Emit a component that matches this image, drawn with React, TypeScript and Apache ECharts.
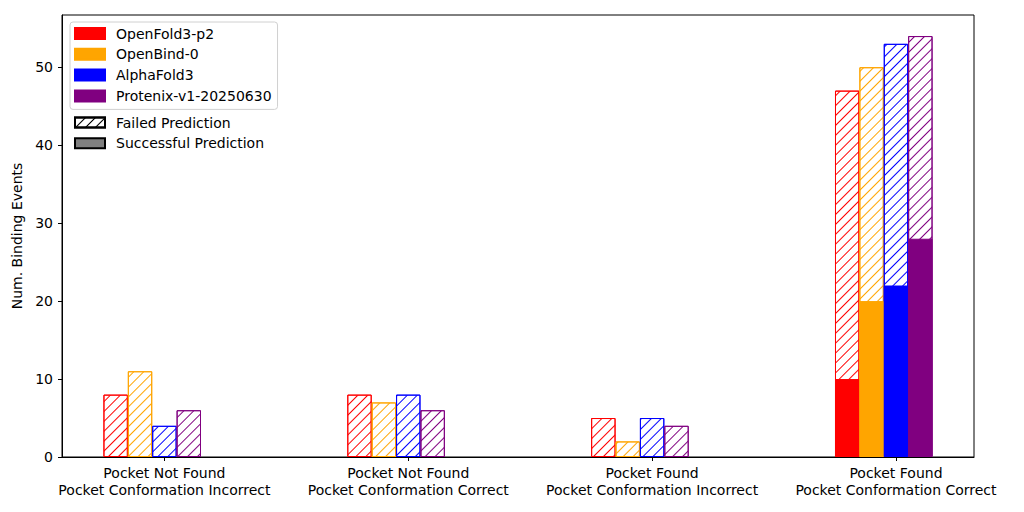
import React, { useEffect, useRef } from 'react';
import * as echarts from 'echarts';

const categories = [
  'Pocket Not Found\nPocket Conformation Incorrect',
  'Pocket Not Found\nPocket Conformation Correct',
  'Pocket Found\nPocket Conformation Incorrect',
  'Pocket Found\nPocket Conformation Correct',
];
const categoryPositions = [0, 1, 2, 3];

const models = ['OpenFold3-p2', 'OpenBind-0', 'AlphaFold3', 'Protenix-v1-20250630'];
const modelColors = ['#ff0000', '#ffa500', '#0000ff', '#800080'];
// bar offset of each model inside a group (in category units)
const barOffsets = [-0.2, -0.1, 0, 0.1];

// total binding events (failed + successful) per category
const openFold3Total = [8, 8, 5, 47];
const openBindTotal = [11, 7, 2, 50];
const alphaFold3Total = [4, 8, 5, 53];
const protenixTotal = [6, 6, 4, 54];
// successful predictions per category
const openFold3Successful = [0, 0, 0, 10];
const openBindSuccessful = [0, 0, 0, 20];
const alphaFold3Successful = [0, 0, 0, 22];
const protenixSuccessful = [0, 0, 0, 28];

const totalByModel = [openFold3Total, openBindTotal, alphaFold3Total, protenixTotal];
const successfulByModel = [openFold3Successful, openBindSuccessful, alphaFold3Successful, protenixSuccessful];

const yTicks = [0, 10, 20, 30, 40, 50];

const FONT = '"DejaVu Sans", sans-serif';

const hatch = (color: string) => ({
  symbol: 'rect',
  symbolSize: 1,
  dashArrayX: [1, 0],
  dashArrayY: [1, 6],
  rotation: -Math.PI / 4,
  color,
});

const App: React.FC = () => {
  const chartRef = useRef<HTMLDivElement>(null);

  useEffect(() => {
    if (!chartRef.current) return;
    const chart = echarts.init(chartRef.current, null, { renderer: 'svg' });

    const series: any[] = [];
    // hatched bars = all events, drawn first
    models.forEach((model, m) => {
      series.push({
        name: model + ' failed',
        type: 'bar',
        barWidth: 24.4,
        barGap: '-100%',
        z: 2,
        itemStyle: {
          color: '#ffffff',
          borderColor: modelColors[m],
          borderWidth: 1,
          decal: hatch(modelColors[m]),
        },
        data: totalByModel[m].map((v, i) => [categoryPositions[i] + barOffsets[m], v]),
      });
    });
    // solid bars = successful part, drawn over the bottom of the hatched bar
    models.forEach((model, m) => {
      series.push({
        name: model,
        type: 'bar',
        barWidth: 24.4,
        barGap: '-100%',
        z: 3,
        itemStyle: { color: modelColors[m], borderColor: modelColors[m], borderWidth: 1 },
        data: successfulByModel[m]
          .map((v, i) => [categoryPositions[i] + barOffsets[m], v])
          .filter((d) => d[1] > 0),
      });
    });
    // legend-only entries
    series.push({
      name: 'Failed Prediction',
      type: 'bar',
      barWidth: 24.4,
      barGap: '-100%',
      itemStyle: { color: '#ffffff', borderColor: '#000', borderWidth: 1, decal: hatch('#000') },
      data: [],
    });
    series.push({
      name: 'Successful Prediction',
      type: 'bar',
      barWidth: 24.4,
      barGap: '-100%',
      itemStyle: { color: '#808080', borderColor: '#000', borderWidth: 1 },
      data: [],
    });

    const legendText = { fontFamily: FONT, fontSize: 14, color: '#000', lineHeight: 15, padding: [0, 0, 0, 6] };

    chart.setOption({
      animation: false,
      textStyle: { fontFamily: FONT },
      grid: {
        left: 62,
        right: 50,
        top: 15,
        bottom: 55,
        show: true,
        borderColor: '#000',
        borderWidth: 1,
        containLabel: false,
      },
      legend: [
        {
          data: models,
          orient: 'vertical',
          left: 70,
          top: 22,
          itemWidth: 30,
          itemHeight: 11,
          itemGap: 5.8,
          padding: [4, 6, 6, 4],
          borderColor: '#d0d0d0',
          borderWidth: 1,
          borderRadius: 3,
          backgroundColor: '#fff',
          selectedMode: false,
          icon: 'rect',
          textStyle: legendText,
        },
        {
          data: ['Failed Prediction', 'Successful Prediction'],
          orient: 'vertical',
          left: 70,
          top: 111,
          itemWidth: 30,
          itemHeight: 10,
          itemGap: 5.8,
          padding: [4, 6, 4, 4],
          selectedMode: false,
          icon: 'rect',
          textStyle: legendText,
        },
      ],
      xAxis: {
        type: 'value',
        min: -0.42,
        max: 3.32,
        splitLine: { show: false },
        axisLine: { show: true, onZero: false, lineStyle: { color: '#000', width: 1 } },
        axisTick: { show: true, length: 4, customValues: categoryPositions, lineStyle: { color: '#000' } },
        axisLabel: {
          customValues: categoryPositions,
          formatter: (v: number) => categories[Math.round(v)] ?? '',
          fontFamily: FONT,
          fontSize: 14,
          color: '#000',
          lineHeight: 17,
          margin: 7,
        },
      },
      yAxis: {
        type: 'value',
        min: 0,
        max: 56.7,
        name: 'Num. Binding Events',
        nameLocation: 'middle',
        nameRotate: 90,
        nameGap: 37,
        nameTextStyle: { fontFamily: FONT, fontSize: 14, color: '#000' },
        splitLine: { show: false },
        axisLine: { show: true, onZero: false, lineStyle: { color: '#000', width: 1 } },
        axisTick: { show: true, length: 4, customValues: yTicks, lineStyle: { color: '#000' } },
        axisLabel: {
          customValues: yTicks,
          fontFamily: FONT,
          fontSize: 14,
          color: '#000',
          margin: 9,
        },
      },
      series,
    });

    return () => {
      chart.dispose();
    };
  }, []);

  return (
    <div
      ref={chartRef}
      style={{ position: 'fixed', left: 0, top: 0, width: 1024, height: 512, background: '#fff' }}
    />
  );
};

export default App;
